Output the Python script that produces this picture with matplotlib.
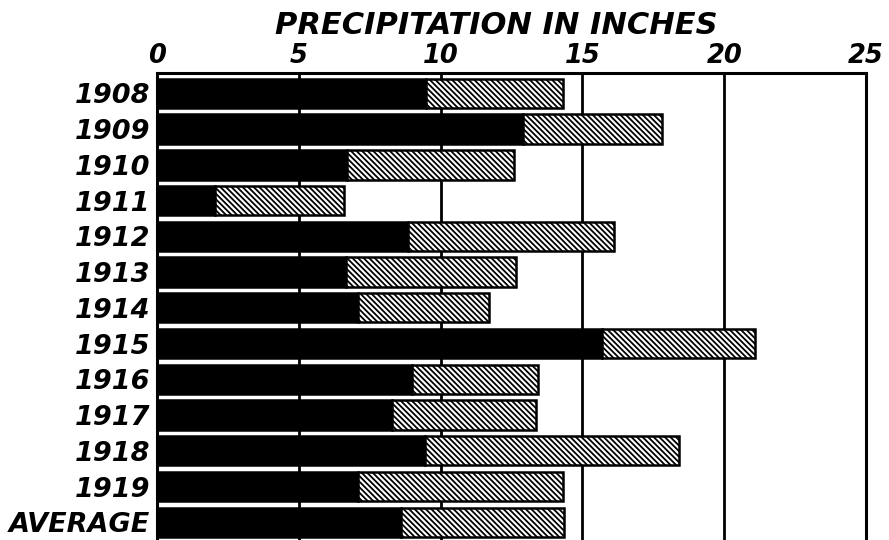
import matplotlib
matplotlib.use("Agg")
import matplotlib.pyplot as plt
import numpy as np

years = ["1908", "1909", "1910", "1911", "1912", "1913", "1914", "1915",
         "1916", "1917", "1918", "1919", "AVERAGE"]
black_part = [9.5, 12.9, 6.7, 2.05, 8.85, 6.65, 7.1, 15.7, 9.0, 8.3, 9.45, 7.1, 8.6]
total = [14.3, 17.8, 12.6, 6.6, 16.1, 12.65, 11.7, 21.1, 13.45, 13.35, 18.4, 14.3, 14.35]
xticks = [0, 5, 10, 15, 20, 25]
title = "PRECIPITATION IN INCHES"

hatched_part = [t - b for t, b in zip(total, black_part)]

plt.rcParams["hatch.linewidth"] = 1.3
W, H = 889, 540
fig = plt.figure(figsize=(W / 100, H / 100), dpi=100)
fig.patch.set_facecolor("white")

left, right, top = 157, 866, 73
bottom_px = 543
ax = fig.add_axes([left / W, 1 - bottom_px / H, (right - left) / W, (bottom_px - top) / H])
ax.set_facecolor("white")

y = np.arange(len(years))
bh = 0.82
ax.barh(y, black_part, height=bh, color="black", edgecolor="black", linewidth=1.8, zorder=3)
ax.barh(y, hatched_part, left=black_part, height=bh, color="white", edgecolor="black",
        hatch="\\" * 6, linewidth=1.8, zorder=3)

for xv in xticks[1:-1]:
    ax.axvline(xv, color="black", lw=2.0, zorder=1)

ax.set_xlim(0, 25)
ax.set_ylim(12.58, -0.57)
ax.xaxis.tick_top()
ax.set_xticks(xticks)
ax.set_xticklabels([str(v) for v in xticks])
ax.set_yticks(y)
ax.set_yticklabels(years)
ax.tick_params(axis="both", length=0)
ax.tick_params(axis="x", pad=3)
ax.tick_params(axis="y", pad=5)
for lab in ax.get_xticklabels():
    lab.set_fontsize(18.5)
for lab in ax.get_yticklabels():
    lab.set_fontsize(19.5)
for lab in ax.get_xticklabels() + ax.get_yticklabels():
    lab.set_fontweight("bold")
    lab.set_fontstyle("italic")
    lab.set_family("DejaVu Sans")

for s in ["top", "left", "right"]:
    ax.spines[s].set_linewidth(2.2)
ax.spines["bottom"].set_visible(False)

fig.text(496 / W, 1 - 25 / H, title, ha="center", va="center", fontsize=22,
         fontweight="bold", fontstyle="italic", family="DejaVu Sans")

fig.savefig("out.png", dpi=100)
